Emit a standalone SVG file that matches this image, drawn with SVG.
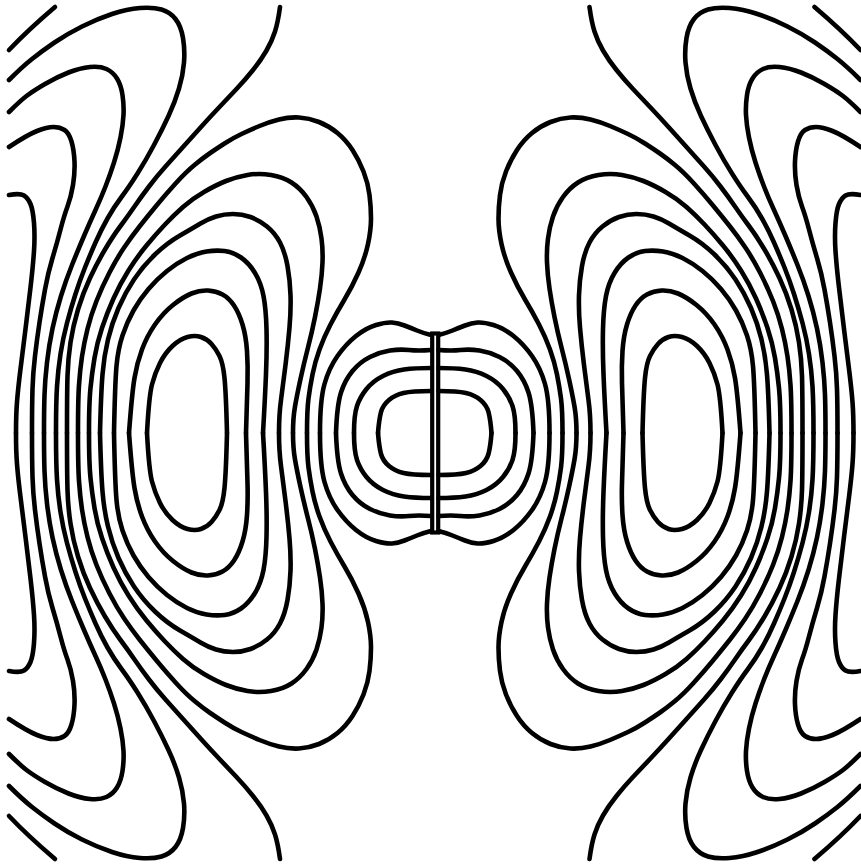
<svg xmlns="http://www.w3.org/2000/svg" xmlns:xlink="http://www.w3.org/1999/xlink" width="861" height="864" viewBox="0 0 861 864">
<style>
.c{fill:none;stroke:#000;stroke-width:4.6;stroke-linecap:round;stroke-linejoin:round}
.ant{fill:none;stroke:#000;stroke-width:4.2}
</style>
<defs>
<g id="q" class="c">
<path id="L1" d="M9,50 Q28,30 55,7"/>
<path id="L2" d="M9,80 Q22,67 32,59 Q42,51 54.5,42.5 Q67,34 82,26.5 Q97,19 112,14 Q127,9 140,8 Q153,7 161.5,9.5 Q170,12 175.5,19 Q181,26 183,38 Q185,50 184,62.5 Q183,75 179,88.5 Q175,102 168.5,116 Q162,130 154,145 Q146,160 137.5,173.5 Q129,187 121.5,197 Q114,207 107.5,218.5 Q101,230 95.5,242.5 Q90,255 85,267.5 Q80,280 75.5,294 Q71,308 67,323 Q63,338 60.5,354 Q58,370 57,386.5 Q56,403 56,433"/>
<path id="L3" d="M9,112 Q20,101 26.5,96 Q33,91 45,84 Q57,77 68.5,72.5 Q80,68 90,67 Q100,66 106.5,69 Q113,72 117,78.5 Q121,85 122.5,95 Q124,105 123.5,115 Q123,125 120.5,137.5 Q118,150 114,162.5 Q110,175 105.5,186.5 Q101,198 95.5,210 Q90,222 84,236 Q78,250 72,265 Q66,280 61,296 Q56,312 52.5,328.5 Q49,345 47,362.5 Q45,380 44.5,395 Q44,410 44,433"/>
<path id="L4" d="M9,147 Q27,135 37,131 Q47,127 53.5,127 Q60,127 64.5,130 Q69,133 71.5,141.5 Q74,150 74.5,161.5 Q75,173 73,185 Q71,197 67.5,206.5 Q64,216 60.5,229.5 Q57,243 52.5,258 Q48,273 45,289.5 Q42,306 39.5,322.5 Q37,339 35,356 Q33,373 32.5,389 Q32,405 32,433"/>
<path id="L5" d="M9,195 Q20,193 24,195.5 Q28,198 30.5,204 Q33,210 34,223 Q35,236 34,251 Q33,266 30.5,287.5 Q28,309 25.5,329 Q23,349 20.5,369 Q18,389 17,402 Q16,415 16,433"/>
<path id="L6" d="M280,7 Q278,22 275,31.5 Q272,41 266.5,50.5 Q261,60 253,70 Q245,80 236.5,89 Q228,98 219,107.5 Q210,117 201,127 Q192,137 183,147 Q174,157 165.5,166.5 Q157,176 149,186.5 Q141,197 134.5,206.5 Q128,216 120.5,226 Q113,236 105,249.5 Q97,263 90,278 Q83,293 78,309.5 Q73,326 70.5,342.5 Q68,359 67.5,376 Q67,393 67,433"/>
<path id="K78" d="M78,433 Q78,400 79,385 Q80,370 82,356.5 Q84,343 87.5,329 Q91,315 96.5,301 Q102,287 109.5,272.5 Q117,258 124.5,247 Q132,236 139.5,226.5 Q147,217 156.5,205.5 Q166,194 176,183 Q186,172 194.5,165 Q203,158 209.5,153.5 Q216,149 224.5,143.5 Q233,138 241.5,134 Q250,130 259.5,126 Q269,122 279,119.5 Q289,117 299,117.5 Q309,118 319,122 Q329,126 337.5,133 Q346,140 352.5,150 Q359,160 363.5,171.5 Q368,183 369.5,195 Q371,207 371,218.5 Q371,230 368,244 Q365,258 358.5,272.5 Q352,287 344.5,299.5 Q337,312 330.5,324.5 Q324,337 319.5,349.5 Q315,362 312.5,374.5 Q310,387 308.5,398.5 Q307,410 307,433"/>
<path id="K89" d="M89,433 Q89,403 90.5,388 Q92,373 94.5,358 Q97,343 102,328 Q107,313 113.5,298.5 Q120,284 128.5,270.5 Q137,257 146.5,245.5 Q156,234 165,224.5 Q174,215 183,207 Q192,199 204,192 Q216,185 226,181 Q236,177 247.5,175 Q259,173 271,175 Q283,177 291.5,182.5 Q300,188 306.5,197 Q313,206 316.5,216.5 Q320,227 321.5,238.5 Q323,250 322.5,262.5 Q322,275 320,288.5 Q318,302 315,317 Q312,332 308,347.5 Q304,363 300.5,379 Q297,395 295,406.5 Q293,418 293,433"/>
<path id="K101" d="M100,433 Q101,393 102.5,374.5 Q104,356 108,339.5 Q112,323 118.5,308 Q125,293 134,279.5 Q143,266 155,254.5 Q167,243 180,235.5 Q193,228 200.5,223.5 Q208,219 216,216.5 Q224,214 233,214 Q242,214 250.5,217 Q259,220 267,226.5 Q275,233 280,242.5 Q285,252 287.5,266 Q290,280 290.5,295 Q291,310 289.5,327.5 Q288,345 285.5,365 Q283,385 281,400 Q279,415 279,433"/>
<path id="K114" d="M114,433 Q115,383 116.5,366 Q118,349 122.5,335.5 Q127,322 133.5,310.5 Q140,299 148.5,289 Q157,279 167,271 Q177,263 187,258 Q197,253 206.5,251.5 Q216,250 224.5,251 Q233,252 241,257.5 Q249,263 255,273 Q261,283 263.5,296 Q266,309 266.5,329 Q267,349 266,374 Q265,399 263,433"/>
<path id="K129" d="M129,433 Q132,393 134.5,378 Q137,363 142,349.5 Q147,336 155,324.5 Q163,313 173,305 Q183,297 191.5,293.5 Q200,290 208,290.5 Q216,291 222.5,294.5 Q229,298 234,305.5 Q239,313 242.5,324.5 Q246,336 247,351 Q248,366 247.5,383 Q247,400 246,433"/>
<path id="K147" d="M147,433 Q149,396 152,384.5 Q155,373 160,363 Q165,353 172.5,346 Q180,339 187.5,337 Q195,335 201,337 Q207,339 211.5,344 Q216,349 219.5,356 Q223,363 224.5,378 Q226,393 227,433"/>
<path id="C1" d="M378,433 Q379,420 381,412 Q383,405 389,400 Q395,395 403.5,393 Q412,391 431,391"/>
<path id="C2" d="M354,433 Q354,415 357,406 Q360,397 366.5,389 Q373,381 383,376 Q393,371 404,369.5 Q415,368 431,368"/>
<path id="C3" d="M336,433 Q337,405 341,392.5 Q345,380 352.5,371 Q360,362 370,357 Q380,352 390,350.5 Q400,349 409,350 Q418,351 431,350"/>
<path id="C4" d="M320,433 Q320,400 324.5,384 Q329,368 337.5,356 Q346,344 356,336 Q366,328 376,325 Q386,322 392,322.5 Q398,323 404.5,325.5 Q411,328 417,330.5 Q423,333 431,335"/>
</g>
</defs>
<g id="connectors">
<use id="top-left" xlink:href="#q" href="#q"/>
<use id="top-right" xlink:href="#q" href="#q" transform="translate(869.5,0) scale(-1,1)"/>
<use id="bottom-left" xlink:href="#q" href="#q" transform="translate(0,866) scale(1,-1)"/>
<use id="bottom-right" xlink:href="#q" href="#q" transform="translate(869.5,866) scale(-1,-1)"/>
</g>
<g id="antenna">
<rect class="ant" x="432.2" y="333.5" width="6" height="199"/>
</g>
</svg>
